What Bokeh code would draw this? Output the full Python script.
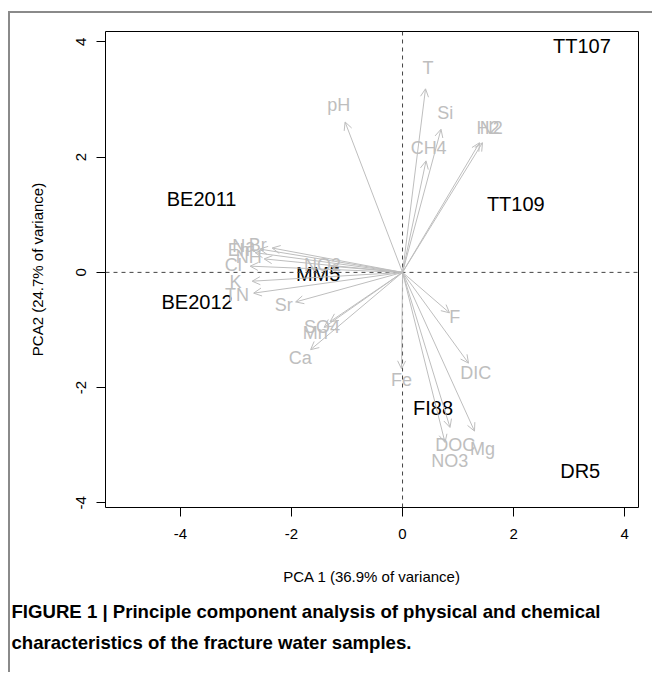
from bokeh.plotting import figure
from bokeh.models import Arrow, OpenHead, ColumnDataSource, Span, Title, FixedTicker, Range1d
from bokeh.embed import file_html
from bokeh.resources import INLINE
from bokeh.core.properties import value

# sample scores (label positions)
samples = ["TT107", "BE2011", "TT109", "MM5", "BE2012", "FI88", "DR5"]
sample_pc1 = [3.23, -3.62, 2.04, -1.52, -3.70, 0.55, 3.20]
sample_pc2 = [3.92, 1.28, 1.18, -0.02, -0.52, -2.35, -3.45]

# variable loadings (label positions)
variables = ["T", "pH", "Si", "CH4", "H2", "N2", "Eh", "Na", "Br", "NH", "Cl",
             "NO2", "K", "TN", "Sr", "SO4", "Mn", "Ca", "F", "DIC", "Fe",
             "DOC", "NO3", "Mg"]
var_pc1 = [0.46, -1.15, 0.77, 0.47, 1.54, 1.60, -2.95, -2.86, -2.61, -2.77, -3.05,
           -1.44, -3.01, -2.98, -2.14, -1.45, -1.57, -1.84, 0.94, 1.32, -0.02,
           0.95, 0.85, 1.44]
var_pc2 = [3.54, 2.90, 2.76, 2.15, 2.50, 2.50, 0.38, 0.45, 0.47, 0.26, 0.12,
           0.12, -0.17, -0.40, -0.57, -0.95, -1.06, -1.49, -0.78, -1.75, -1.86,
           -2.99, -3.28, -3.06]
arrow_scale = 0.9

x_ticks = [-4, -2, 0, 2, 4]
y_ticks = [-4, -2, 0, 2, 4]
tick_text = ["-4", "-2", "0", "2", "4"]
x_title = "PCA 1 (36.9% of variance)"
y_title = "PCA2 (24.7% of variance)"
caption1 = "FIGURE 1 | Principle component analysis of physical and chemical"
caption2 = "characteristics of the fracture water samples."

FONT = "Liberation Sans"
GREY = "#bebebe"

p = figure(width=644, height=661, output_backend="svg", toolbar_location=None,
           x_range=Range1d(-5.35, 4.25), y_range=Range1d(-4.08, 4.18),
           min_border_left=95, min_border_right=16, min_border_top=18,
           min_border_bottom=167)
p.styles = {"border-top": "2px solid #8a8a8a", "border-left": "2px solid #8a8a8a",
            "margin-top": "11px", "margin-left": "8px"}
p.grid.visible = False
p.outline_line_color = "black"
p.outline_line_width = 1
p.background_fill_color = "white"
p.border_fill_color = "white"

for ax in (p.xaxis[0], p.yaxis[0]):
    ax.axis_line_color = None
    ax.major_tick_out = 9
    ax.major_tick_in = 0
    ax.minor_tick_line_color = None
    ax.major_tick_line_color = "black"
    ax.major_label_text_font = FONT
    ax.major_label_text_font_size = "15px"
    ax.major_label_text_color = "black"
    ax.axis_label_text_font = FONT
    ax.axis_label_text_font_size = "15px"
    ax.axis_label_text_font_style = "normal"
    ax.axis_label_text_color = "black"

p.xaxis.ticker = FixedTicker(ticks=x_ticks)
p.yaxis.ticker = FixedTicker(ticks=y_ticks)
p.xaxis.major_label_overrides = dict(zip(x_ticks, tick_text))
p.yaxis.major_label_overrides = dict(zip(y_ticks, tick_text))
p.xaxis.axis_label = x_title
p.yaxis.axis_label = y_title
p.yaxis.major_label_orientation = "vertical"
p.xaxis.major_label_standoff = 12
p.yaxis.major_label_standoff = 10
p.xaxis.axis_label_standoff = 26
p.yaxis.axis_label_standoff = 28

# dashed zero lines
p.add_layout(Span(location=0, dimension="width", line_color="#444444",
                  line_dash="4 4", line_width=1))
p.add_layout(Span(location=0, dimension="height", line_color="#444444",
                  line_dash="4 4", line_width=1))

# sample labels
ssrc = ColumnDataSource(dict(x=sample_pc1, y=sample_pc2, t=samples))
p.text(x="x", y="y", text="t", source=ssrc, text_font=value(FONT),
       text_font_size="20px", text_color="black", text_align="center",
       text_baseline="middle")

# arrows
asrc = ColumnDataSource(dict(
    xe=[v * arrow_scale for v in var_pc1],
    ye=[v * arrow_scale for v in var_pc2]))
p.add_layout(Arrow(end=OpenHead(size=8, line_color=GREY, line_width=1),
                   x_start=0, y_start=0, x_end="xe", y_end="ye", source=asrc,
                   line_color=GREY, line_width=1))

vsrc = ColumnDataSource(dict(x=var_pc1, y=var_pc2, t=variables))
p.text(x="x", y="y", text="t", source=vsrc, text_font=value(FONT),
       text_font_size="18px", text_color=GREY, text_align="center",
       text_baseline="middle")

# caption as titles below the x axis
for i, line in enumerate([caption1, caption2]):
    p.add_layout(Title(text=line, align="left", offset=-94, text_font=FONT,
                       text_font_style="bold", text_font_size="18.6px",
                       text_color="black", standoff=-5 if i else 22), "below")

open("out.html", "w").write(file_html(p, INLINE))
